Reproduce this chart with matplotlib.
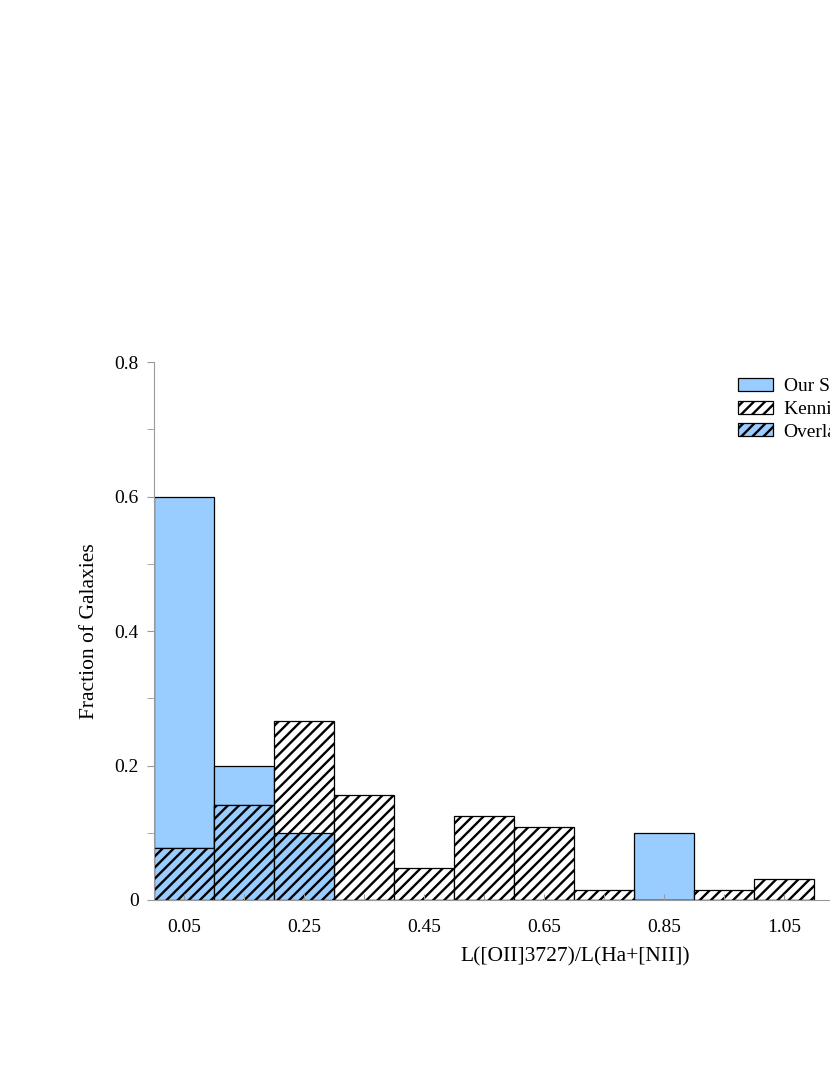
import numpy as np
import matplotlib.pyplot as plt
from matplotlib.patches import Patch

plt.rcParams['font.family'] = ['Liberation Serif', 'DejaVu Serif']
plt.rcParams['hatch.linewidth'] = 1.7

# bin centres of L([OII]3727)/L(Ha+[NII])
centres = [0.05, 0.15, 0.25, 0.35, 0.45, 0.55, 0.65, 0.75, 0.85, 0.95, 1.05]
tick_labels = ['0.05', '', '0.25', '', '0.45', '', '0.65', '', '0.85', '', '1.05']

our_sample = [0.60, 0.20, 0.10, 0.0, 0.0, 0.0, 0.0, 0.0, 0.10, 0.0, 0.0]
kennicutt = [0.078, 0.141, 0.266, 0.156, 0.047, 0.125, 0.109, 0.0156, 0.0, 0.0156, 0.031]
overlap = [0.078, 0.141, 0.10, 0.0, 0.0, 0.0, 0.0, 0.0, 0.0, 0.0, 0.0]

blue = '#99ccff'
edge = 'black'

fig = plt.figure(figsize=(8.3, 10.75), dpi=100)
ax = fig.add_axes([154 / 830, 175 / 1075, 720 / 830, 538 / 1075])

x = np.arange(len(centres))
ax.bar(x, our_sample, width=1.0, color=blue, edgecolor=edge, linewidth=0.9)
ax.bar(x, kennicutt, width=1.0, color='white', edgecolor=edge, linewidth=0.9, hatch='///')
ax.bar(x, overlap, width=1.0, color=blue, edgecolor=edge, linewidth=0.9, hatch='///')

ax.set_xlim(-0.5, 11.5)
ax.set_ylim(0, 0.8)

for s in ['top', 'right']:
    ax.spines[s].set_visible(False)
for s in ['left', 'bottom']:
    ax.spines[s].set_color('#999999')

ax.set_xticks(x)
ax.set_xticklabels(tick_labels, fontsize=14)
ax.tick_params(axis='x', direction='in', length=4, color='#999999', pad=14)
ax.set_yticks([0, 0.2, 0.4, 0.6, 0.8])
ax.set_yticklabels(['0', '0.2', '0.4', '0.6', '0.8'], fontsize=14)
ax.set_yticks([0.1, 0.3, 0.5, 0.7], minor=True)
ax.tick_params(axis='y', which='both', direction='out', length=5, color='#999999', pad=6)

ax.set_xlabel('L([OII]3727)/L(Ha+[NII])', fontsize=15.5)
ax.xaxis.set_label_coords((575 - 154) / 720, -0.087)
ax.set_ylabel('Fraction of Galaxies', fontsize=15.5)
ax.yaxis.set_label_coords(-0.077, 0.5)

handles = [
    Patch(facecolor=blue, edgecolor=edge, linewidth=0.9),
    Patch(facecolor='white', edgecolor=edge, linewidth=0.9, hatch='///'),
    Patch(facecolor=blue, edgecolor=edge, linewidth=0.9, hatch='///'),
]
fig.legend(handles, ['Our Sample', 'Kennicutt (1992)', 'Overlap'],
           loc='upper left', bbox_to_anchor=(738 / 830, 1 - 378 / 1075),
           frameon=False, fontsize=14, handlelength=1.8, handleheight=0.65,
           labelspacing=0.27, borderaxespad=0, borderpad=0, handletextpad=0.55)

fig.savefig('out.png', dpi=100)
